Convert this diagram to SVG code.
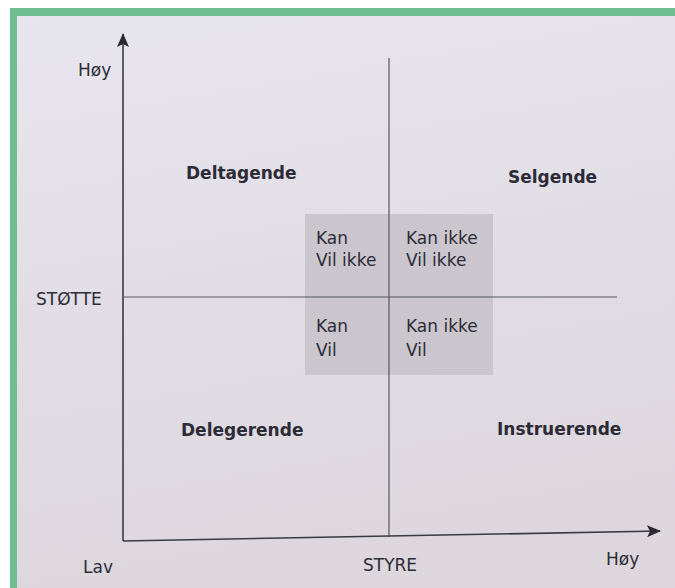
<svg xmlns="http://www.w3.org/2000/svg" width="675" height="588" viewBox="0 0 675 588">
<defs>
<linearGradient id="page" x1="0" y1="0" x2="0.2" y2="1">
<stop offset="0" stop-color="#e7e5ee"/>
<stop offset="1" stop-color="#ddd6dd"/>
</linearGradient>
<marker id="arr" viewBox="0 0 14 12" refX="13" refY="6" markerWidth="14" markerHeight="12" markerUnits="userSpaceOnUse" orient="auto">
<path d="M0,0 L14,6 L0,12 L3,6 Z" fill="#2a2a30"/>
</marker>
</defs>
<style>
.t{font-family:"DejaVu Sans","Liberation Sans",sans-serif;font-size:17px;fill:#2c2b36}
.b{font-weight:bold}
.ax{stroke:#3a3a40;stroke-width:1.6;fill:none}
.q{stroke:#55555c;stroke-width:1.2;fill:none}
</style>
<rect width="675" height="588" fill="#ffffff"/>
<rect x="10" y="8" width="665" height="580" fill="#70bd90"/>
<rect x="17" y="16" width="658" height="572" fill="url(#page)"/>
<rect id="box" x="305" y="214" width="188" height="161" fill="#cbc6cd"/>
<g id="connectors">
<line class="q" x1="389" y1="58" x2="389" y2="537"/>
<line class="q" x1="124" y1="297" x2="617" y2="297"/>
<line class="ax" x1="123" y1="541" x2="123" y2="34" marker-end="url(#arr)"/>
<line class="ax" x1="123" y1="541" x2="660" y2="531" marker-end="url(#arr)"/>
</g>
<g id="axis-labels">
<text class="t" x="78" y="76">Høy</text>
<text class="t" x="36" y="305">STØTTE</text>
<text class="t" x="83" y="573">Lav</text>
<text class="t" x="363" y="571">STYRE</text>
<text class="t" x="606" y="565">Høy</text>
</g>
<g id="deltagende"><text class="t b" x="186" y="179">Deltagende</text></g>
<g id="selgende"><text class="t b" x="508" y="183">Selgende</text></g>
<g id="delegerende"><text class="t b" x="181" y="436">Delegerende</text></g>
<g id="instruerende"><text class="t b" x="497" y="435">Instruerende</text></g>
<g id="kan-vilikke"><text class="t" x="316" y="244">Kan</text><text class="t" x="316" y="266">Vil ikke</text></g>
<g id="kanikke-vilikke"><text class="t" x="406" y="244">Kan ikke</text><text class="t" x="406" y="266">Vil ikke</text></g>
<g id="kan-vil"><text class="t" x="316" y="332">Kan</text><text class="t" x="316" y="356">Vil</text></g>
<g id="kanikke-vil"><text class="t" x="406" y="332">Kan ikke</text><text class="t" x="406" y="356">Vil</text></g>
</svg>
